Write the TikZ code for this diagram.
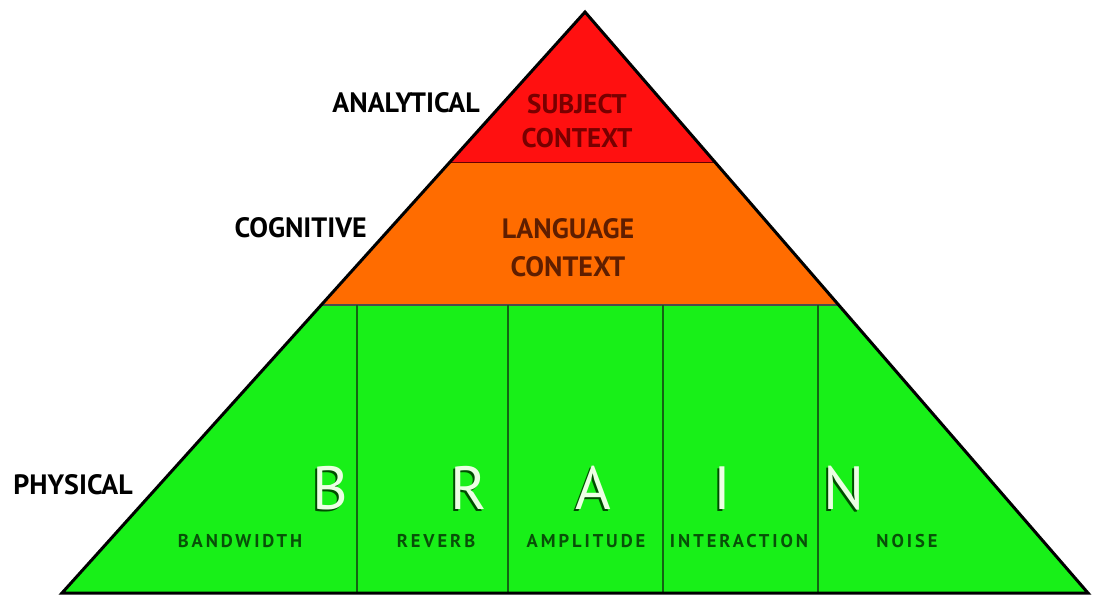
\documentclass[tikz,border=0pt]{standalone}
\usepackage{fontspec}
\setmainfont{PT Sans}
\newfontfamily\spacedfont[LetterSpace=16]{PT Sans}
\usepackage{xcolor}
\usepackage{tikz}
\usetikzlibrary{calc}

\definecolor{topred}{RGB}{255,16,16}
\definecolor{midorange}{RGB}{255,108,0}
\definecolor{lowgreen}{RGB}{24,240,24}
\definecolor{redtext}{RGB}{120,0,0}
\definecolor{orangetext}{RGB}{95,30,0}
\definecolor{greentext}{RGB}{8,80,8}
\definecolor{divline}{RGB}{20,100,20}
\definecolor{paleletter}{RGB}{236,255,228}

\newcommand\lvlfont{\fontsize{28}{30}\selectfont\bfseries}
\newcommand\boxfont{\fontsize{27}{34}\selectfont\bfseries}
\newcommand\cellfont{\spacedfont\fontsize{18.5}{20}\selectfont\bfseries}
\newcommand\letterfont{\fontsize{61}{61}\selectfont}

\tikzset{
  level/.style={anchor=east,text=black,font=\lvlfont,inner sep=0pt},
  layer/.style={align=center,font=\boxfont,inner sep=0pt},
  cell/.style={text=greentext,font=\cellfont,inner sep=0pt},
  letter/.style={text=paleletter,font=\letterfont,inner sep=0pt},
  lettershade/.style={text=black!70!green,font=\letterfont,inner sep=0pt}
}

\begin{document}
\begin{tikzpicture}[x=1pt,y=-1pt]
  \useasboundingbox (0,0) rectangle (1093,601);

  \coordinate (apex) at (585,12);
  \coordinate (bl) at (62,593);
  \coordinate (br) at (1088,593);

  % layers
  \begin{scope}
    \clip (apex) -- (br) -- (bl) -- cycle;
    \fill[topred] (0,0) rectangle (1093,163);
    \fill[midorange] (0,163) rectangle (1093,305);
    \fill[lowgreen] (0,305) rectangle (1093,601);
    \draw[black!60!red,line width=1pt] (0,163) -- (1093,163);
    \draw[black!70,line width=1.8pt] (0,305) -- (1093,305);
    \foreach \x in {357,508,663,818}
      \draw[divline,line width=1.2pt] (\x,305) -- (\x,601);
  \end{scope}
  \draw[black,line width=3pt,line join=miter] (apex) -- (br) -- (bl) -- cycle;

  % level names
  \node[level] (analytical) at (480,103) {ANALYTICAL};
  \node[level] (cognitive) at (367,228) {COGNITIVE};
  \node[level] (physical) at (133,485) {PHYSICAL};

  % upper layers
  \node[layer,text=redtext] (subject) at (577,121) {SUBJECT\\CONTEXT};
  \node[layer,text=orangetext,font=\fontsize{28}{38}\selectfont\bfseries]
    (language) at (568,248) {LANGUAGE\\CONTEXT};

  % BRAIN
  \foreach \l/\x in {B/330,R/469,A/593,I/722,N/844}{
    \node[lettershade] (\l s) at (\x-2,490) {\l};
    \node[letter] (\l) at (\x,488) {\l};
  }

  % parameters
  \node[cell] (bandwidth) at (240,541) {BANDWIDTH};
  \node[cell] (reverb) at (436,541) {REVERB};
  \node[cell] (amplitude) at (586,541) {AMPLITUDE};
  \node[cell] (interaction) at (739,541) {INTERACTION};
  \node[cell] (noise) at (907,541) {NOISE};
\end{tikzpicture}
\end{document}
